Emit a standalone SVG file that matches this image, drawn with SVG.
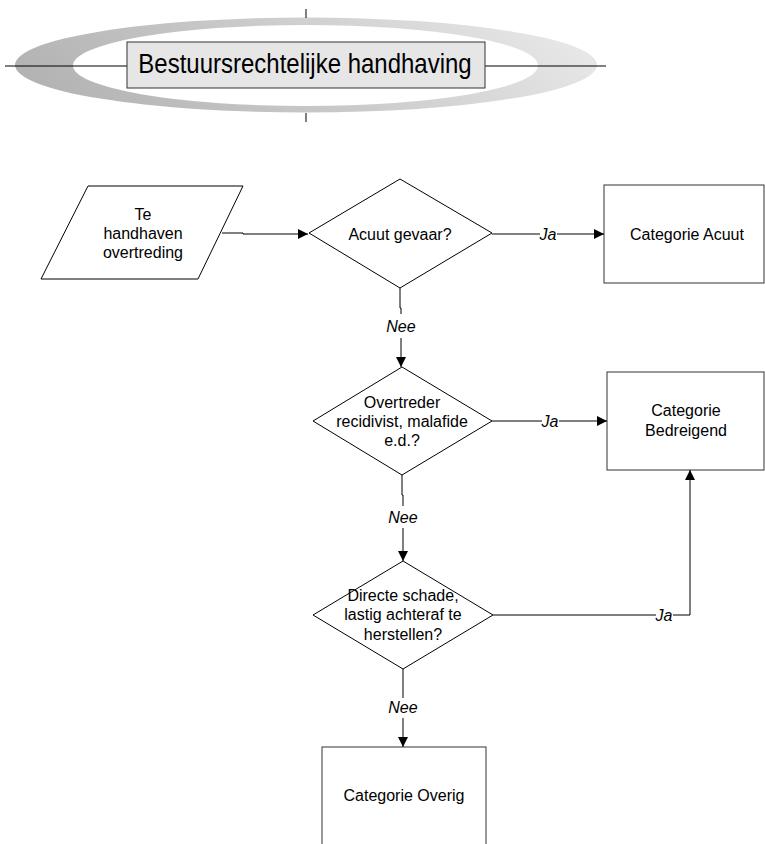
<svg xmlns="http://www.w3.org/2000/svg" width="765" height="844" viewBox="0 0 765 844">
<style>
text{font-family:"Liberation Sans",Arial,sans-serif;font-size:16px;fill:#000;text-anchor:middle}
.lbl{font-style:italic}
.shape{fill:#fff;stroke:#000;stroke-width:1}
.box{fill:#fff;stroke:#333;stroke-width:1}
.ln{fill:none;stroke:#000;stroke-width:1}
</style>
<defs>
<linearGradient id="ringg" x1="0" y1="0.6" x2="1" y2="0.4">
<stop offset="0" stop-color="#b2b2b2"/>
<stop offset="0.5" stop-color="#cbcbcb"/>
<stop offset="1" stop-color="#e8e8e8"/>
</linearGradient>
<marker id="ah" markerWidth="10" markerHeight="10" refX="10" refY="5" orient="auto" markerUnits="userSpaceOnUse">
<path d="M0,0 L10,5 L0,10 Z" fill="#000"/>
</marker>
</defs>
<g id="header">
<path d="M15,65 A291,47.5 0 1 0 597,65 A291,47.5 0 1 0 15,65 Z M73,65.5 A232.5,40.5 0 1 0 538,65.5 A232.5,40.5 0 1 0 73,65.5 Z" fill="url(#ringg)" fill-rule="evenodd"/>
<line class="ln" x1="5" y1="66" x2="127" y2="66"/>
<line class="ln" x1="485" y1="66" x2="606" y2="66"/>
<line class="ln" x1="306" y1="9" x2="306" y2="18"/>
<line class="ln" x1="306" y1="113" x2="306" y2="122"/>
<rect x="127" y="42" width="358" height="46" fill="#e6e6e6" stroke="#333"/>
<text transform="translate(305,73) scale(1,1.12)" x="0" y="0" style="font-size:24px">Bestuursrechtelijke handhaving</text>
</g>
<g id="start">
<polygon class="shape" points="88,186 243,186 198,279 41,279"/>
<text x="143" y="220">Te</text>
<text x="143" y="239">handhaven</text>
<text x="143" y="258">overtreding</text>
</g>
<g id="q1">
<polygon class="shape" points="400,179 492,233 400,288 309,233"/>
<text x="400" y="240">Acuut gevaar?</text>
</g>
<g id="acuut">
<rect class="box" x="604" y="185" width="160" height="98"/>
<text x="687" y="240">Categorie Acuut</text>
</g>
<g id="q2">
<polygon class="shape" points="402,367 492,421 402,475 313,421"/>
<text x="402" y="408">Overtreder</text>
<text x="402" y="427">recidivist, malafide</text>
<text x="402" y="446">e.d.?</text>
</g>
<g id="bedreigend">
<rect class="box" x="607" y="372" width="157" height="98"/>
<text x="686" y="416">Categorie</text>
<text x="686" y="436">Bedreigend</text>
</g>
<g id="q3">
<polygon class="shape" points="403,561 493,615 403,669 313,615"/>
<text x="403" y="601">Directe schade,</text>
<text x="403" y="620">lastig achteraf te</text>
<text x="403" y="640">herstellen?</text>
</g>
<g id="overig">
<rect class="box" x="322" y="747" width="164" height="110"/>
<text x="404" y="801">Categorie Overig</text>
</g>
<g id="connectors">
<polyline class="ln" points="222,233 243,233 243,234 308,234" marker-end="url(#ah)"/>
<line class="ln" x1="492" y1="234" x2="540" y2="234"/>
<line class="ln" x1="557" y1="234" x2="604" y2="234" marker-end="url(#ah)"/>
<text class="lbl" x="548" y="240">Ja</text>
<polyline class="ln" points="400,288 400,308 401,308 401,314"/>
<line class="ln" x1="401" y1="338" x2="401" y2="367" marker-end="url(#ah)"/>
<text class="lbl" x="401" y="332">Nee</text>
<line class="ln" x1="492" y1="421" x2="542" y2="421"/>
<line class="ln" x1="559" y1="421" x2="607" y2="421" marker-end="url(#ah)"/>
<text class="lbl" x="550" y="427">Ja</text>
<polyline class="ln" points="402,475 402,495 403,495 403,506"/>
<line class="ln" x1="403" y1="528" x2="403" y2="561" marker-end="url(#ah)"/>
<text class="lbl" x="403" y="523">Nee</text>
<line class="ln" x1="493" y1="615" x2="656" y2="615"/>
<polyline class="ln" points="673,615 690,615 690,470" marker-end="url(#ah)"/>
<text class="lbl" x="664" y="621">Ja</text>
<line class="ln" x1="403" y1="669" x2="403" y2="698"/>
<line class="ln" x1="403" y1="718" x2="403" y2="747" marker-end="url(#ah)"/>
<text class="lbl" x="403" y="713">Nee</text>
</g>
</svg>
